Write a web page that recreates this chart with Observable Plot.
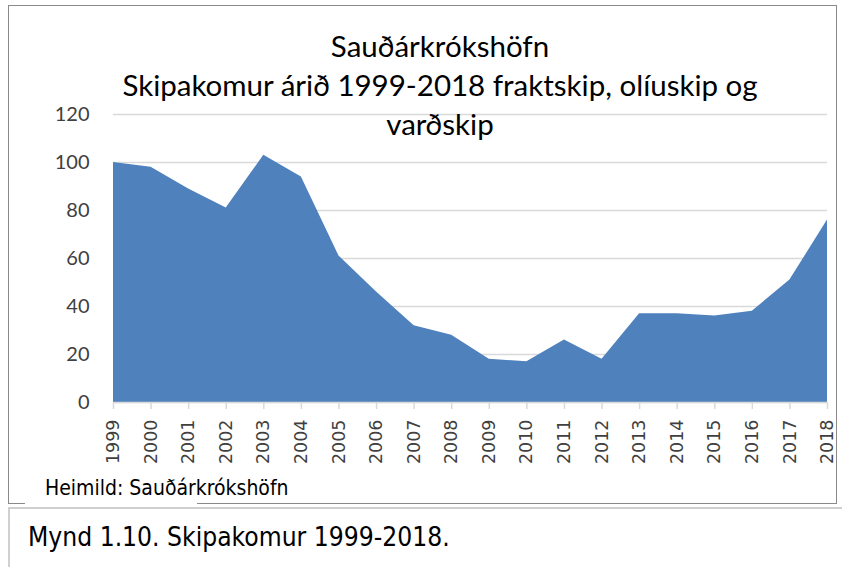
<!DOCTYPE html>
<html>
<head>
<meta charset="utf-8">
<script src="https://cdn.jsdelivr.net/npm/d3@7"></script>
<script src="https://cdn.jsdelivr.net/npm/@observablehq/plot@0.6"></script>
<style>
  html, body { margin: 0; padding: 0; background: #fff; width: 842px; height: 567px; overflow: hidden; }
  #frame { position: absolute; left: 8px; top: 5px; width: 829px; height: 499px; border: 1.5px solid #8a8a8a; box-sizing: border-box; }
  #chart { position: absolute; left: 9px; top: 6px; }
  #title { position: absolute; left: 40px; width: 800px; top: 26px; text-align: center; font-family: Lato, "Open Sans", sans-serif; font-size: 29.5px; line-height: 39px; color: #000; }
  #source { position: absolute; left: 45px; top: 476px; font-family: "Liberation Sans Narrow", "DejaVu Sans Condensed", sans-serif; font-size: 21px; color: #000; }
  #gap { position: absolute; left: 25px; width: 172px; top: 502px; height: 4px; background: #fff; }
  #capbox { position: absolute; left: 8px; top: 507px; width: 834px; height: 60px; border-left: 2px solid #d0d0d0; border-top: 2px solid #d0d0d0; box-sizing: border-box; }
  #caption { position: absolute; left: 28px; top: 522px; font-family: "Liberation Sans Narrow", "DejaVu Sans Condensed", sans-serif; font-size: 26.2px; color: #000; }
</style>
</head>
<body>
<div id="frame"></div>
<div id="chart"></div>
<div id="title">Sauðárkrókshöfn<br>Skipakomur árið 1999-2018 fraktskip, olíuskip og<br>varðskip</div>
<div id="gap"></div>
<div id="source">Heimild: Sauðárkrókshöfn</div>
<div id="capbox"></div>
<div id="caption">Mynd 1.10. Skipakomur 1999-2018.</div>
<script>
const years = [1999,2000,2001,2002,2003,2004,2005,2006,2007,2008,2009,2010,2011,2012,2013,2014,2015,2016,2017,2018];
const arrivals = [100,98,89,81,103,94,61,46,32,28,18,17,26,18,37,37,36,38,51,76];
const yTicks = [0,20,40,60,80,100,120];

const data = years.map((y, i) => ({year: y, value: arrivals[i]}));

const chart = Plot.plot({
  width: 828,
  height: 470,
  marginLeft: 104,
  marginRight: 10,
  marginTop: 108,
  marginBottom: 74,
  style: {background: "transparent", overflow: "visible"},
  x: {type: "linear", domain: [1999, 2018]},
  y: {domain: [0, 120]},
  marks: [
    Plot.gridY(yTicks, {stroke: "#d9d9d9", strokeOpacity: 1, strokeWidth: 1.5}),
    Plot.areaY(data, {x: "year", y: "value", fill: "#4f81bd"}),
    Plot.ruleY([0], {stroke: "#d9d9d9", strokeWidth: 1.5}),
    Plot.axisX(years, {tickFormat: d => String(d), tickRotate: -90, tickSize: 7, tickPadding: 10,
      stroke: "#d9d9d9", strokeWidth: 1.5, fill: "#404040", fontSize: 17.5,
      fontFamily: "DejaVu Sans", label: null}),
    Plot.axisY(yTicks, {tickSize: 0, tickPadding: 24, fill: "#404040", fontSize: 20,
      fontFamily: "Lato", label: null})
  ]
});
document.getElementById("chart").appendChild(chart);
</script>
</body>
</html>
